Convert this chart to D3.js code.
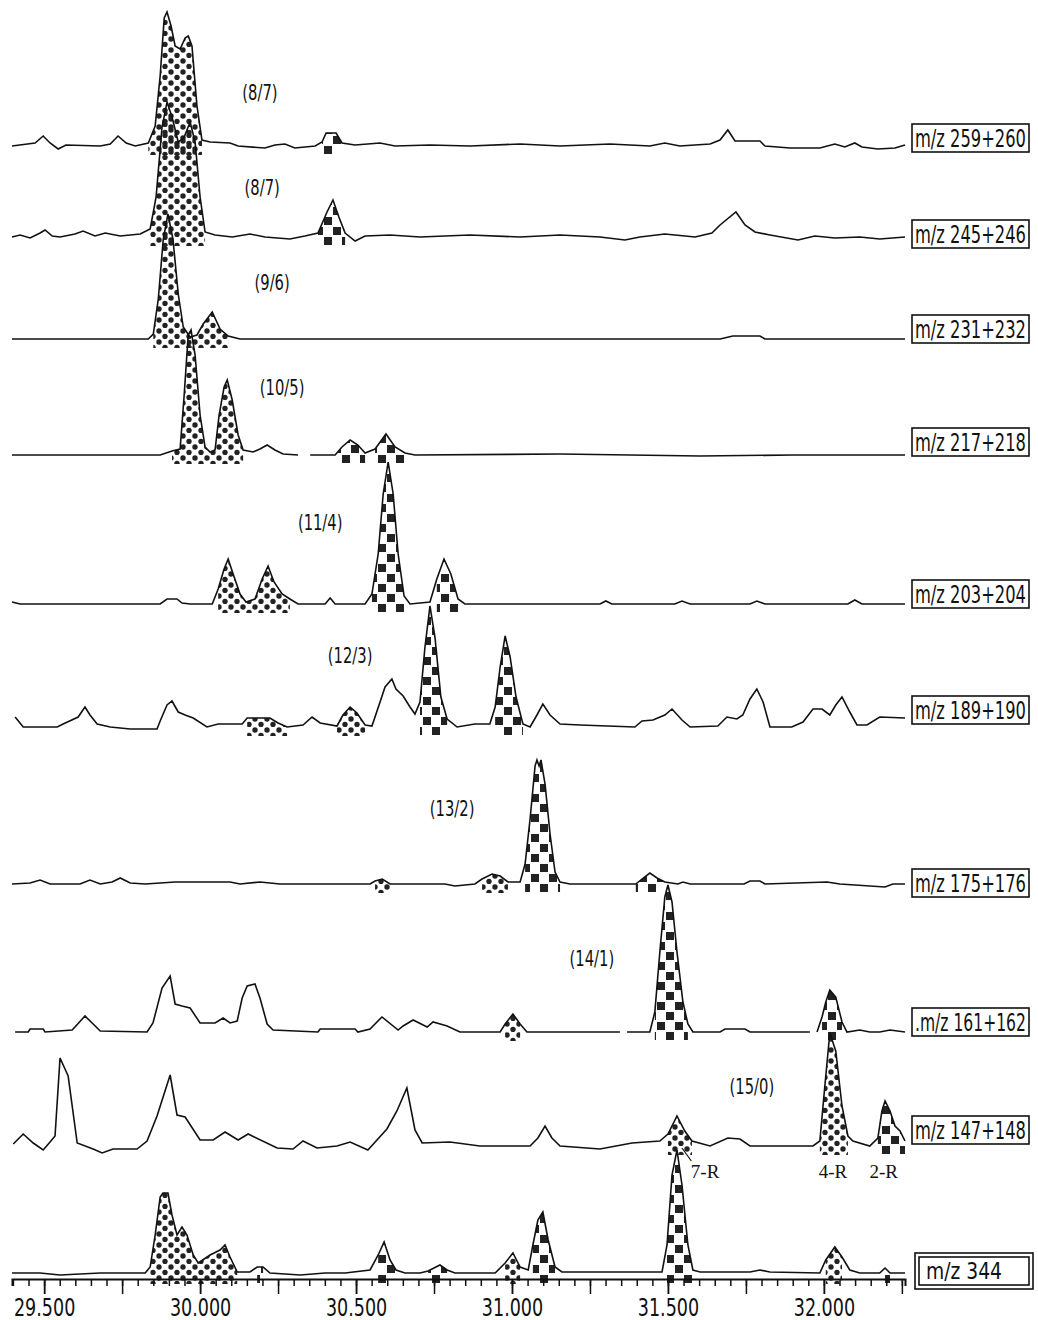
<!DOCTYPE html>
<html>
<head>
<meta charset="utf-8">
<script src="https://cdn.jsdelivr.net/npm/d3@7"></script>
<style>
  body { margin: 0; background: #fff; }
  svg { display: block; }
  .trace { fill: none; stroke: #111; stroke-width: 1.6; stroke-linejoin: miter; }
  .ion-box { fill: #fff; stroke: #111; stroke-width: 1.6; }
  .ion-label, .fraction, .tick text { font-family: 'DejaVu Sans', sans-serif; font-stretch: condensed; fill: #111; }
  .peak-id { font-family: 'Liberation Serif', 'DejaVu Serif', serif; fill: #111; }
</style>
</head>
<body>
<svg id="chart" width="1038" height="1320"></svg>
<script>
// CHROMATOGRAM.JS - stacked ion traces, retention time in minutes

// ion channels, top to bottom
const ionLabels = ['m/z 259+260', 'm/z 245+246', 'm/z 231+232', 'm/z 217+218', 'm/z 203+204',
    'm/z 189+190', 'm/z 175+176', '.m/z 161+162', 'm/z 147+148', 'm/z 344'];
const fractionLabels = ['(8/7)', '(8/7)', '(9/6)', '(10/5)', '(11/4)', '(12/3)', '(13/2)', '(14/1)', '(15/0)'];
const fractionTimes = [30.192, 30.199, 30.231, 30.263, 30.385, 30.481, 30.808, 31.256, 31.769];
const peakIds = ['7-R', '4-R', '2-R'];
const peakIdTimes = [31.619, 32.029, 32.192];

// [retention time, intensity above baseline]; null = gap in the trace
const mz259 = [[29.397, 0], [29.471, 3], [29.497, 10], [29.519, 3], [29.545, -3], [29.570, 1], [29.680, 0],
    [29.712, 2], [29.737, 10], [29.763, 3], [29.792, 0], [29.834, 3], [29.856, 20], [29.872, 70], [29.885, 128],
    [29.894, 134], [29.907, 120], [29.920, 100], [29.936, 97], [29.952, 108], [29.962, 110], [29.974, 100],
    [29.990, 40], [30.006, 6], [30.032, 4], [30.096, 3], [30.122, 0], [30.208, -2], [30.240, 1], [30.272, 2],
    [30.304, -2], [30.369, 0], [30.391, 4], [30.404, 13], [30.436, 13], [30.455, 3], [30.497, 1], [30.577, 3],
    [30.625, 0], [30.737, 1], [30.865, 0], [31.026, 2], [31.154, 0], [31.314, 2], [31.442, 0], [31.490, 3],
    [31.538, 0], [31.635, 2], [31.667, 6], [31.692, 16], [31.715, 5], [31.795, 5], [31.811, 0], [31.891, -2],
    [31.987, -2], [32.035, 2], [32.067, -1], [32.099, 3], [32.122, -1], [32.173, -3], [32.228, -2], [32.260, 1]];
const mz245 = [[29.397, 0], [29.423, 2], [29.455, -1], [29.487, 4], [29.503, 7], [29.526, 1], [29.551, 0],
    [29.599, 3], [29.625, 6], [29.663, 1], [29.696, 4], [29.744, 1], [29.808, 3], [29.840, 8], [29.859, 40],
    [29.878, 110], [29.894, 135], [29.910, 120], [29.930, 95], [29.949, 100], [29.968, 115], [29.984, 95],
    [30.000, 40], [30.016, 5], [30.048, 2], [30.103, 0], [30.160, 3], [30.208, 0], [30.288, -2], [30.336, 1],
    [30.378, 4], [30.407, 25], [30.426, 37], [30.445, 20], [30.465, 4], [30.497, -4], [30.529, 1], [30.609, 2],
    [30.705, 0], [30.865, 2], [31.026, 0], [31.154, 2], [31.282, 0], [31.362, -3], [31.410, 0], [31.490, 3],
    [31.587, 0], [31.641, 4], [31.667, 12], [31.718, 25], [31.747, 12], [31.779, 5], [31.827, 2], [31.917, -3],
    [31.971, 1], [32.035, -1], [32.115, 0], [32.179, -2], [32.260, 0]];
const mz231 = [[29.397, 0], [29.834, 0], [29.850, 5], [29.866, 40], [29.882, 100], [29.897, 125], [29.913, 100],
    [29.930, 45], [29.946, 12], [29.968, 2], [29.990, 4], [30.010, 15], [30.039, 27], [30.064, 10], [30.090, 3],
    [30.128, 0], [31.667, 0], [31.708, 3], [31.795, 3], [31.811, 0], [32.260, 0]];
const mz217 = [[29.397, 0], [29.872, 0], [29.910, 4], [29.936, 6], [29.949, 60], [29.962, 120], [29.971, 125],
    [29.984, 100], [30.000, 40], [30.016, 8], [30.032, 3], [30.048, 5], [30.061, 40], [30.077, 68], [30.087, 75],
    [30.103, 55], [30.122, 20], [30.138, 5], [30.170, 3], [30.192, 6], [30.215, 10], [30.240, 5], [30.266, 1],
    [30.314, 0], [30.330, null], [30.353, 0], [30.433, 0], [30.455, 8], [30.481, 15], [30.506, 10], [30.529, 2],
    [30.561, 6], [30.596, 21], [30.625, 8], [30.657, 2], [30.689, 0], [31.154, 1], [31.603, -1], [31.900, 0],
    [32.260, 0]];
const mz203 = [[29.397, 2], [29.423, 0], [29.872, 0], [29.894, 5], [29.926, 5], [29.942, 1], [29.968, 0],
    [30.039, 0], [30.058, 15], [30.077, 35], [30.090, 45], [30.106, 30], [30.128, 10], [30.147, 2], [30.176, 5],
    [30.199, 25], [30.218, 38], [30.237, 22], [30.263, 10], [30.288, 5], [30.314, 0], [30.401, 0], [30.417, 6],
    [30.433, 0], [30.529, 0], [30.551, 10], [30.571, 50], [30.587, 110], [30.603, 142], [30.619, 110],
    [30.635, 50], [30.654, 8], [30.673, 0], [30.737, 2], [30.759, 25], [30.782, 45], [30.804, 30], [30.827, 5],
    [30.849, 0], [31.282, 0], [31.301, 3], [31.320, 0], [31.522, 0], [31.545, 3], [31.571, 0], [31.763, 0],
    [31.785, 3], [31.811, 0], [32.077, 0], [32.099, 4], [32.122, 0], [32.260, 0]];
const mz189 = [[29.407, 10], [29.433, 0], [29.542, 0], [29.561, 3], [29.609, 10], [29.631, 20], [29.647, 12],
    [29.670, 3], [29.712, 0], [29.776, -2], [29.862, -2], [29.872, 6], [29.894, 22], [29.910, 26], [29.930, 15],
    [29.952, 12], [29.978, 9], [30.022, 0], [30.058, 3], [30.135, 3], [30.151, 9], [30.224, 9], [30.250, 4],
    [30.279, 0], [30.330, 2], [30.359, 10], [30.385, 4], [30.439, 1], [30.458, 12], [30.481, 20], [30.503, 14],
    [30.529, 2], [30.551, 1], [30.577, 25], [30.593, 40], [30.615, 48], [30.628, 38], [30.651, 31], [30.673, 20],
    [30.689, 13], [30.705, 25], [30.721, 80], [30.737, 121], [30.753, 90], [30.772, 30], [30.792, 8],
    [30.824, 0], [30.881, 3], [30.929, 3], [30.946, 20], [30.962, 60], [30.978, 91], [30.994, 70], [31.013, 30],
    [31.035, 3], [31.058, 0], [31.080, 12], [31.099, 23], [31.122, 12], [31.154, 3], [31.218, 2], [31.394, 0],
    [31.417, 6], [31.452, 7], [31.490, 12], [31.513, 18], [31.545, 7], [31.571, 0], [31.660, 1], [31.689, 10],
    [31.721, 8], [31.740, 12], [31.763, 28], [31.785, 38], [31.805, 25], [31.827, 0], [31.897, 0], [31.933, 5],
    [31.965, 18], [31.994, 18], [32.019, 12], [32.038, 22], [32.058, 30], [32.083, 15], [32.106, 2], [32.138, 2],
    [32.179, 10], [32.260, 9]];
const mz175 = [[29.397, 0], [29.455, 1], [29.487, 4], [29.519, 0], [29.615, 0], [29.647, 4], [29.680, 0],
    [29.718, 2], [29.744, 6], [29.776, 1], [29.824, 0], [29.920, 2], [30.096, 2], [30.128, 0], [30.192, 2],
    [30.256, 0], [30.545, 0], [30.561, 3], [30.584, 5], [30.609, 0], [30.785, 0], [30.817, -2], [30.881, 0],
    [30.904, 5], [30.936, 10], [30.962, 8], [30.987, 2], [31.026, 2], [31.042, 20], [31.058, 65], [31.074, 118],
    [31.080, 124], [31.087, 118], [31.093, 124], [31.106, 100], [31.122, 50], [31.138, 12], [31.154, 2],
    [31.186, 0], [31.397, 0], [31.417, 5], [31.442, 11], [31.465, 6], [31.490, 2], [31.532, 0], [31.548, 2],
    [31.571, 0], [31.744, 0], [31.763, 3], [31.795, 3], [31.811, 0], [32.010, 2], [32.051, 0], [32.196, -3],
    [32.221, 0], [32.260, 0]];
const mz161 = [[29.407, 0], [29.449, 0], [29.455, 3], [29.497, 3], [29.503, 0], [29.590, 2], [29.631, 16],
    [29.680, 1], [29.830, 0], [29.849, 9], [29.878, 44], [29.904, 56], [29.920, 28], [29.942, 26], [29.968, 24],
    [30.000, 9], [30.048, 9], [30.074, 14], [30.096, 9], [30.119, 11], [30.135, 34], [30.151, 46], [30.176, 48],
    [30.192, 34], [30.215, 8], [30.234, 2], [30.378, 0], [30.385, 3], [30.497, 3], [30.506, 0], [30.545, 3],
    [30.583, 15], [30.635, 2], [30.651, 6], [30.683, 12], [30.728, 5], [30.747, 10], [30.792, 6], [30.833, 0],
    [30.962, 0], [30.978, 8], [31.003, 18], [31.026, 8], [31.048, 0], [31.346, 0], [31.355, null], [31.369, 0],
    [31.442, 0], [31.458, 20], [31.474, 80], [31.490, 135], [31.500, 147], [31.513, 130], [31.529, 80],
    [31.548, 30], [31.564, 8], [31.580, 0], [31.667, 0], [31.683, 3], [31.747, 3], [31.763, 0], [31.955, 0],
    [31.965, null], [31.978, 0], [31.994, 15], [32.006, 30], [32.019, 42], [32.038, 35], [32.058, 10],
    [32.074, 0], [32.115, 2], [32.147, 0], [32.179, 0], [32.212, 2], [32.260, 0]];
const mz147 = [[29.401, 2], [29.433, 12], [29.465, 3], [29.497, -4], [29.519, 4], [29.535, 10], [29.551, 88],
    [29.577, 70], [29.606, 3], [29.657, -3], [29.686, -7], [29.721, -3], [29.798, -3], [29.830, 5], [29.862, 30],
    [29.904, 71], [29.926, 31], [29.952, 29], [30.000, 6], [30.042, 6], [30.080, 14], [30.122, 6], [30.154, 12],
    [30.247, -2], [30.298, -3], [30.330, 5], [30.375, -2], [30.439, 0], [30.481, 4], [30.538, -4], [30.599, 17],
    [30.631, 35], [30.663, 58], [30.689, 16], [30.712, 3], [30.801, 4], [30.897, 0], [31.058, 0], [31.083, 8],
    [31.106, 20], [31.128, 8], [31.154, 0], [31.282, -3], [31.385, 3], [31.474, 5], [31.500, 12], [31.529, 30],
    [31.554, 15], [31.577, 5], [31.635, 0], [31.692, 8], [31.731, 7], [31.763, 0], [31.965, 0], [31.987, 5],
    [32.003, 60], [32.019, 113], [32.038, 95], [32.058, 40], [32.077, 10], [32.093, 5], [32.147, 0], [32.173, 8],
    [32.186, 35], [32.196, 45], [32.212, 35], [32.228, 20], [32.244, 15], [32.260, 5]];
const mz344 = [[29.397, 2], [29.487, 2], [29.551, 0], [29.680, 2], [29.824, 2], [29.840, 8], [29.856, 40],
    [29.872, 78], [29.881, 82], [29.897, 82], [29.910, 60], [29.926, 40], [29.942, 48], [29.958, 40],
    [29.978, 20], [29.994, 12], [30.032, 20], [30.064, 25], [30.080, 30], [30.096, 18], [30.119, 3], [30.160, 3],
    [30.183, 8], [30.202, 8], [30.224, 2], [30.321, 0], [30.401, 2], [30.465, 2], [30.545, 5], [30.571, 20],
    [30.590, 33], [30.609, 15], [30.628, 5], [30.657, 2], [30.705, 2], [30.731, 4], [30.769, 10], [30.792, 5],
    [30.817, 2], [30.946, 2], [30.978, 12], [31.003, 22], [31.026, 8], [31.052, 5], [31.067, 30], [31.083, 55],
    [31.099, 63], [31.116, 35], [31.138, 8], [31.160, 3], [31.282, 3], [31.481, 3], [31.497, 30], [31.513, 100],
    [31.529, 125], [31.545, 90], [31.564, 30], [31.580, 5], [31.603, 3], [31.763, 3], [31.795, 5], [31.827, 3],
    [31.987, 2], [32.006, 15], [32.035, 28], [32.058, 18], [32.083, 5], [32.115, 2], [32.179, 2], [32.196, 7],
    [32.212, 2], [32.260, 2]];
const traces = [mz259, mz245, mz231, mz217, mz203, mz189, mz175, mz161, mz147, mz344];

// marked peaks per trace: [from, to, marker]
const markedPeaks = [
    [[29.834, 30.006, 'dots'], [30.391, 30.455, 'squares']],
    [[29.840, 30.016, 'dots'], [30.378, 30.465, 'squares']],
    [[29.850, 30.090, 'dots']],
    [[29.910, 30.138, 'dots'], [30.433, 30.529, 'squares'], [30.561, 30.657, 'squares']],
    [[30.058, 30.288, 'dots'], [30.551, 30.654, 'squares'], [30.759, 30.827, 'squares']],
    [[30.151, 30.279, 'dots'], [30.439, 30.529, 'dots'], [30.705, 30.792, 'squares'], [30.946, 31.035, 'squares']],
    [[30.561, 30.609, 'dots'], [30.904, 30.987, 'dots'], [31.042, 31.154, 'squares'], [31.397, 31.490, 'squares']],
    [[30.978, 31.026, 'dots'], [31.458, 31.564, 'squares'], [31.994, 32.058, 'squares']],
    [[31.500, 31.577, 'dots'], [31.987, 32.077, 'dots'], [32.173, 32.260, 'squares']],
    [[29.840, 30.119, 'dots'], [30.183, 30.202, 'squares'], [30.571, 30.628, 'squares'], [30.731, 30.792, 'squares'],
        [30.978, 31.026, 'dots'], [31.067, 31.138, 'squares'], [31.497, 31.580, 'squares'], [32.006, 32.058, 'dots'],
        [32.196, 32.212, 'squares']]
];

// layout
const BASELINES = [146, 237, 339, 455, 604, 727, 884, 1032, 1146, 1275];
const BOX_CENTERS = [138, 234, 329, 442, 594, 710, 883, 1022, 1130, 1271];
const FRACTION_RISE = [54, 50, 57, 68, 82, 72, 76, 74, 60];
const FILL_DROP = 9;
const AXIS_Y = 1279;
const NARROW = 0.78;

const svg = d3.select('#chart');
const x = d3.scaleLinear().domain([29.397, 32.26]).range([12, 905]);
const y = d3.scaleLinear().domain([0, 150]).range([0, -150]);

/* marker patterns */
const defs = svg.append('defs');
const dots = defs.append('pattern').attr('id', 'dots')
    .attr('patternUnits', 'userSpaceOnUse').attr('width', 12).attr('height', 11);
dots.append('circle').attr('cx', 3).attr('cy', 3).attr('r', 2.7).attr('fill', '#222');
dots.append('circle').attr('cx', 9).attr('cy', 8.5).attr('r', 2.7).attr('fill', '#222');
const squares = defs.append('pattern').attr('id', 'squares')
    .attr('patternUnits', 'userSpaceOnUse').attr('width', 18).attr('height', 20);
squares.append('rect').attr('x', 0).attr('y', 0).attr('width', 8).attr('height', 8).attr('fill', '#222');
squares.append('rect').attr('x', 9).attr('y', 10).attr('width', 8).attr('height', 8).attr('fill', '#222');

const line = d3.line()
    .defined(d => d[1] !== null)
    .x(d => x(d[0]))
    .y(d => y(d[1]));
const area = d3.area()
    .defined(d => d[1] !== null)
    .x(d => x(d[0]))
    .y0(FILL_DROP)
    .y1(d => y(d[1]));

// condensed text: scale horizontally around its own anchor point
function narrowText(sel, px, py, size, factor) {
    return sel.attr('x', 0).attr('y', 0)
        .attr('transform', `translate(${px},${py}) scale(${factor || NARROW},1)`)
        .attr('font-size', size);
}
// squeeze a text so that it is exactly `width` pixels wide
function fitText(sel, px, py, size, width) {
    sel.attr('font-size', size);
    const natural = sel.node().getComputedTextLength();
    return narrowText(sel, px, py, size, width / natural);
}

traces.forEach((trace, i) => {
    const g = svg.append('g').attr('transform', `translate(0,${BASELINES[i]})`);
    markedPeaks[i].forEach(([from, to, marker]) => {
        const part = trace.filter(d => d[1] !== null && d[0] >= from - 1e-6 && d[0] <= to + 1e-6);
        g.append('path')
            .attr('d', area(part))
            .attr('fill', `url(#${marker})`);
    });
    g.append('path').attr('class', 'trace').attr('d', line(trace));

    // ion label box on the right
    const boxTop = BOX_CENTERS[i] - 14;
    if (i === traces.length - 1) {
        svg.append('rect').attr('class', 'ion-box')
            .attr('x', 915).attr('y', boxTop - 4).attr('width', 118).attr('height', 36);
        svg.append('rect').attr('class', 'ion-box')
            .attr('x', 919).attr('y', boxTop).attr('width', 110).attr('height', 28);
        svg.append('text').attr('class', 'ion-label')
            .text(ionLabels[i])
            .call(fitText, 926, BOX_CENTERS[i], 23, 76)
            .attr('dy', '0.36em');
    } else {
        svg.append('rect').attr('class', 'ion-box')
            .attr('x', 912).attr('y', boxTop).attr('width', 117).attr('height', 28);
        svg.append('text').attr('class', 'ion-label')
            .text(ionLabels[i])
            .call(fitText, 915, BOX_CENTERS[i], 24, 111)
            .attr('dy', '0.36em');
    }
    if (i < fractionLabels.length) {
        svg.append('text').attr('class', 'fraction')
            .call(narrowText, x(fractionTimes[i]), BASELINES[i] - FRACTION_RISE[i], 21)
            .attr('dy', '0.36em').attr('text-anchor', 'middle')
            .text(fractionLabels[i]);
    }
});

/* peak identities under the m/z 147+148 trace */
peakIds.forEach((id, k) => {
    svg.append('text').attr('class', 'peak-id')
        .attr('x', x(peakIdTimes[k])).attr('y', BASELINES[8] + 25)
        .attr('dy', '0.35em').attr('text-anchor', 'middle')
        .attr('font-size', 19).text(id);
});
svg.append('line')
    .attr('x1', x(31.545)).attr('y1', BASELINES[8] + 2)
    .attr('x2', x(31.575)).attr('y2', BASELINES[8] + 15)
    .attr('stroke', '#111').attr('stroke-width', 1.2);

/* time axis */
const minorTicks = d3.range(0, 58).map(k => +(29.4 + k * 0.05).toFixed(2));
const quarterTicks = minorTicks.filter(v => Math.round(v * 100) % 25 === 0);
const labelTicks = [29.5, 30.0, 30.5, 31.0, 31.5, 32.0];
const axisG = svg.append('g').attr('transform', `translate(0,${AXIS_Y})`);
axisG.append('g').call(d3.axisBottom(x).tickValues(minorTicks).tickSize(7).tickFormat(''));
axisG.append('g').call(d3.axisBottom(x).tickValues(quarterTicks).tickSize(15).tickFormat(''))
    .select('.domain').remove();
const labelAxis = axisG.append('g')
    .call(d3.axisBottom(x).tickValues(labelTicks).tickSize(15).tickPadding(4).tickFormat(d3.format('.3f')));
labelAxis.select('.domain').remove();
labelAxis.selectAll('.tick text')
    .attr('font-size', 25)
    .attr('transform', `scale(${NARROW},1)`);
axisG.selectAll('.domain').attr('stroke', '#111').attr('stroke-width', 2);
axisG.selectAll('.tick line').attr('stroke', '#111').attr('stroke-width', 1.5);
</script>
</body>
</html>
